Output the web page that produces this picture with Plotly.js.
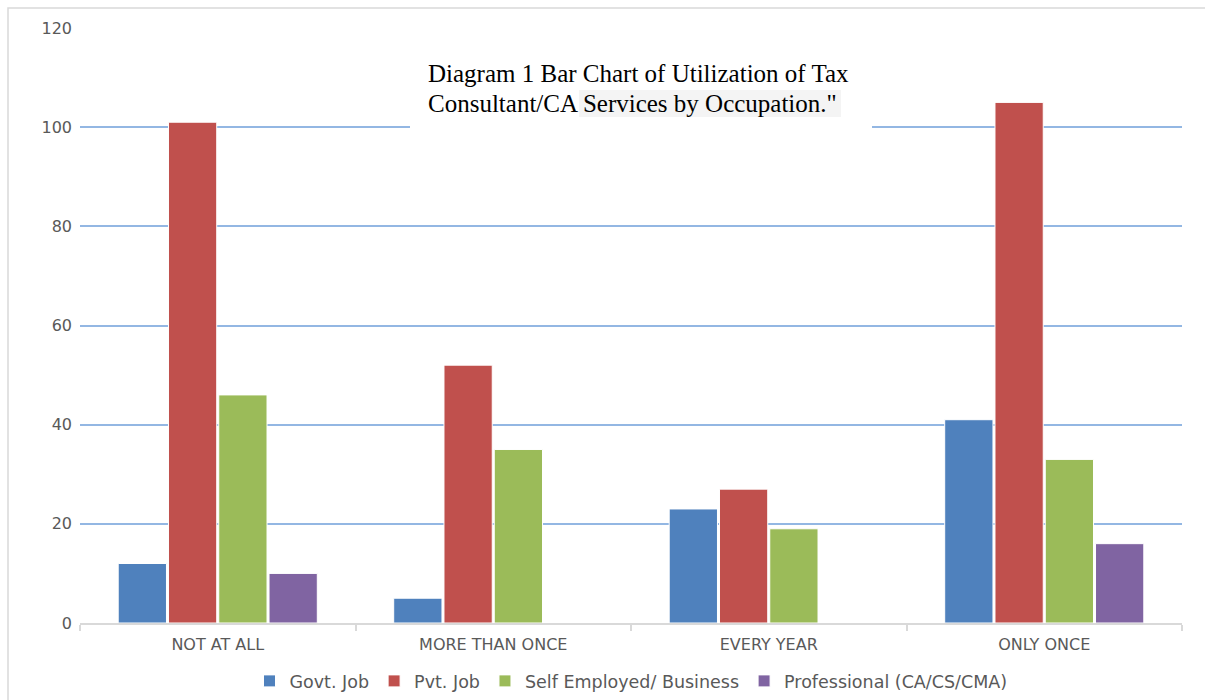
<!DOCTYPE html>
<html>
<head>
<meta charset="utf-8">
<script src="https://cdn.plot.ly/plotly-3.0.1.min.js"></script>
<style>html,body{margin:0;padding:0;background:#fff;}#chart{width:1205px;height:700px;}</style>
</head>
<body>
<div id="chart"></div>
<script>
const categories = ["NOT AT ALL", "MORE THAN ONCE", "EVERY YEAR", "ONLY ONCE"];
const seriesNames = ["Govt. Job", "Pvt. Job", "Self Employed/ Business", "Professional (CA/CS/CMA)"];
const govtJob = [12, 5, 23, 41];
const pvtJob = [101, 52, 27, 105];
const selfEmployed = [46, 35, 19, 33];
const professional = [10, 0, 0, 16];
const yTicks = [0, 20, 40, 60, 80, 100, 120];
const titleLines = ["Diagram 1 Bar Chart of Utilization of Tax", "Consultant/CA Services by Occupation.\""];
const colors = ["#4f81bd", "#c0504d", "#9bbb59", "#8064a2"];

const allValues = [govtJob, pvtJob, selfEmployed, professional];
const traces = allValues.map((vals, i) => ({
  type: "bar",
  name: seriesNames[i],
  x: categories,
  y: vals,
  marker: { color: colors[i], line: { color: "#ffffff", width: 1 } },
  hoverinfo: "x+y+name"
}));

// pixel -> paper helpers (plot area: x 80..1182, y 28..623)
const L = 80, R = 1182, T = 28, B = 623;
const px = v => (v - L) / (R - L);
const py = v => (B - v) / (B - T);
const tickFont = "DejaVu Sans, Liberation Sans, sans-serif";
const serif = "Liberation Serif, Times New Roman, serif";

const layout = {
  width: 1205, height: 700,
  margin: { l: L, r: 1205 - R, t: T, b: 700 - B, autoexpand: false },
  paper_bgcolor: "#ffffff", plot_bgcolor: "#ffffff",
  barmode: "group",
  bargap: 0.27,
  bargroupgap: 0.04,
  font: { family: tickFont, color: "#595959", size: 16 },
  xaxis: {
    type: "category",
    showline: true, linecolor: "#d9d9d9", linewidth: 1.5,
    ticks: "outside", tickson: "boundaries", ticklen: 6, tickcolor: "#d9d9d9", tickwidth: 1.5,
    showgrid: false,
    tickfont: { size: 16, color: "#595959", family: tickFont },
    ticklabelstandoff: 6
  },
  yaxis: {
    range: [0, 120],
    tickvals: yTicks,
    showgrid: true, gridcolor: "#93b7e3", gridwidth: 1.5,
    zeroline: false, showline: false, ticks: "",
    tickfont: { size: 16, color: "#595959", family: tickFont },
    ticklabelstandoff: 7
  },
  showlegend: true,
  legend: {
    orientation: "h", x: 0.5, xanchor: "center", y: py(681), yanchor: "middle",
    font: { size: 17.5, color: "#595959", family: tickFont },
    itemwidth: 30, traceorder: "normal"
  },
  shapes: [
    { type: "rect", xref: "paper", yref: "paper", x0: px(8), x1: px(1215), y0: py(715), y1: py(8),
      line: { color: "#d9d9d9", width: 1.5 }, fillcolor: "rgba(0,0,0,0)", layer: "below" },
    { type: "rect", xref: "paper", yref: "paper", x0: px(410), x1: px(872), y0: py(130), y1: py(56),
      line: { width: 0 }, fillcolor: "#ffffff", layer: "above" },
    { type: "rect", xref: "paper", yref: "paper", x0: px(579), x1: px(841), y0: py(117), y1: py(90),
      line: { width: 0 }, fillcolor: "#f4f4f4", layer: "above" }
  ],
  annotations: [
    { xref: "paper", yref: "paper", x: px(426), y: py(74), xanchor: "left", yanchor: "middle",
      align: "left", showarrow: false, text: titleLines[0],
      font: { family: serif, size: 25, color: "#000000" } },
    { xref: "paper", yref: "paper", x: px(426), y: py(103), xanchor: "left", yanchor: "middle",
      align: "left", showarrow: false, text: titleLines[1],
      font: { family: serif, size: 25, color: "#000000" } }
  ]
};

Plotly.newPlot("chart", traces, layout, { displayModeBar: false });
</script>
</body>
</html>
